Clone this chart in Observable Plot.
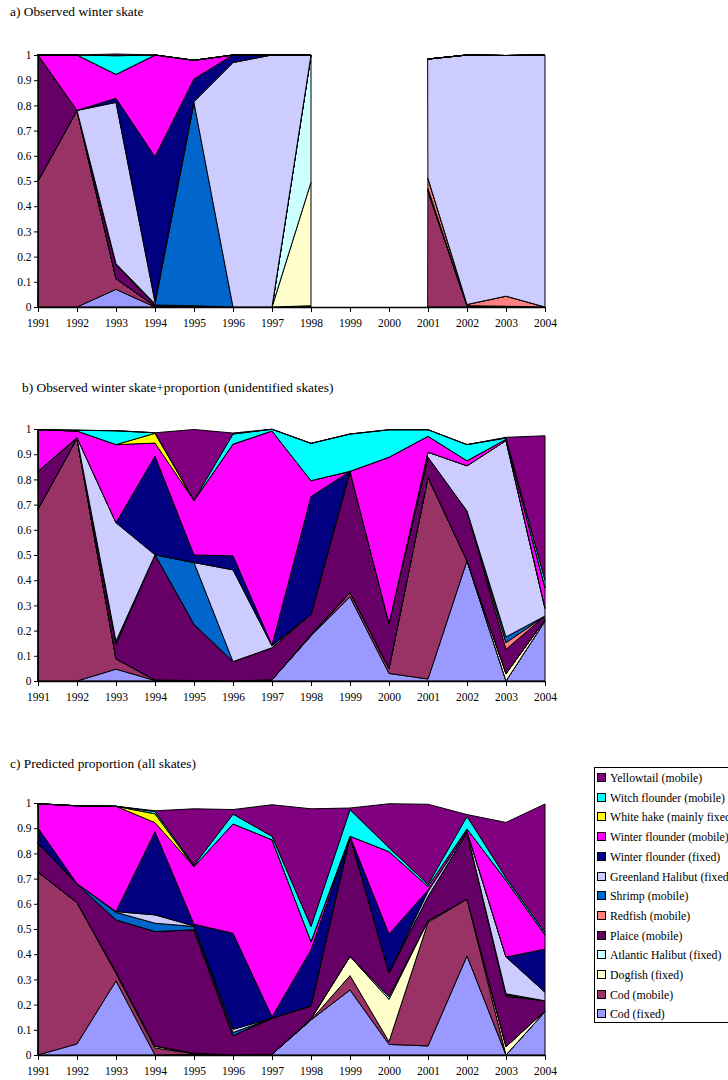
<!DOCTYPE html>
<html><head><meta charset="utf-8">
<script src="https://cdn.jsdelivr.net/npm/d3@7"></script>
<script src="https://cdn.jsdelivr.net/npm/@observablehq/plot@0.6"></script>
<style>
body{margin:0;background:#fff;font-family:"Liberation Serif","Times New Roman",serif;color:#000;}
#root{position:relative;width:728px;height:1080px;overflow:hidden;background:#fff;}
.title{position:absolute;font-size:13.4px;white-space:nowrap;line-height:15px;}
.panel{position:absolute;left:0;}
.legend{position:absolute;left:594px;top:767px;width:150px;height:256px;border:1px solid #000;box-sizing:border-box;background:#fff;}
.item{position:absolute;left:2px;font-size:11.8px;white-space:nowrap;line-height:13px;}
.sw{display:inline-block;width:7px;height:7px;border:1px solid #000;margin-right:4px;vertical-align:0px;}
</style></head>
<body><div id="root"></div>
<script>
const years = [1991,1992,1993,1994,1995,1996,1997,1998,1999,2000,2001,2002,2003,2004];
const series = ["Cod (fixed)","Cod (mobile)","Dogfish (fixed)","Atlantic Halibut (fixed)","Plaice (mobile)","Redfish (mobile)","Shrimp (mobile)","Greenland Halibut (fixed)","Winter flounder (fixed)","Winter flounder (mobile)","White hake (mainly fixed)","Witch flounder (mobile)","Yellowtail (mobile)"];
const colors = ["#9999FF","#993366","#FFFFCC","#CCFFFF","#660066","#FF8080","#0066CC","#CCCCFF","#000080","#FF00FF","#FFFF00","#00FFFF","#800080"];
const yTicks = [0,0.1,0.2,0.3,0.4,0.5,0.6,0.7,0.8,0.9,1];
const yTickLabels = ["0","0.1","0.2","0.3","0.4","0.5","0.6","0.7","0.8","0.9","1"];
const titles = ["a) Observed winter skate","b) Observed winter skate+proportion (unidentified skates)","c) Predicted proportion (all skates)"];

// a) Observed winter skate (1999, 2000 missing)
const panelA = [
 [0,0,0.07,0,0.005,0,0,0.005,null,null,0,0,0,0],
 [0.5,0.78,0.043,0.003,0,0,0,0,null,null,0.46,0.005,0.003,0],
 [0,0,0,0,0,0,0,0.49,null,null,0,0,0,0],
 [0,0,0,0,0,0,0,0.505,null,null,0,0,0,0],
 [0.5,0,0.053,0.005,0,0,0,0,null,null,0.01,0,0,0],
 [0,0,0.003,0,0,0,0,0,null,null,0.04,0.005,0.04,0],
 [0,0,0.003,0.005,0.805,0,0,0,null,null,0,0,0,0],
 [0,0,0.64,0.007,0.005,0.97,1.0,0,null,null,0.474,0.99,0.955,1.0],
 [0,0,0.016,0.576,0.09,0.03,0,0,null,null,0,0,0,0],
 [0,0.22,0.095,0.404,0.074,0,0,0,null,null,0,0,0,0],
 [0,0,0,0,0,0,0,0,null,null,0,0,0,0],
 [0,0,0.074,0,0,0,0,0,null,null,0,0,0,0],
 [0,0,0.007,0,0,0,0,0,null,null,0,0,0,0]
];
// b) Observed winter skate + proportion (unidentified skates)
const panelB = [
 [0,0,0.047,0.002,0.002,0,0.005,0.179,0.334,0.03,0.008,0.477,0,0.238],
 [0.682,0.962,0.041,0.002,0,0,0,0,0.017,0.02,0.8,0,0,0],
 [0,0,0,0,0,0,0,0.003,0,0,0,0,0.029,0.005],
 [0,0,0,0,0,0,0,0.003,0,0,0,0,0,0],
 [0.15,0.002,0.057,0.497,0.223,0.077,0.127,0.08,0.481,0.178,0.08,0.198,0.097,0.015],
 [0,0,0.003,0,0,0,0,0,0,0,0,0,0.026,0],
 [0,0,0.01,0,0.245,0,0,0,0,0,0,0,0.023,0],
 [0,0.002,0.47,0,0,0.364,0.007,0,0,0,0.02,0.179,0.779,0.029],
 [0,0,0,0.391,0.03,0.056,0.003,0.467,0,0,0,0,0,0.003],
 [0.165,0.026,0.31,0.052,0.216,0.443,0.85,0.063,0,0.66,0.063,0.02,0.005,0.08],
 [0,0,0,0.039,0,0,0,0,0,0,0,0,0,0],
 [0,0.003,0.055,0.002,0.002,0.04,0.007,0.148,0.148,0.109,0.026,0.064,0.005,0.03],
 [0,0,0,0,0.28,0.004,0,0,0,0,0,0,0.003,0.573]
];
// c) Predicted proportion (all skates)
const panelC = [
 [0,0.044,0.294,0,0.002,0,0.003,0.139,0.258,0.042,0.036,0.393,0,0.172],
 [0.726,0.561,0.03,0.028,0.003,0,0,0,0.057,0.011,0.49,0.226,0,0],
 [0,0,0.005,0.007,0.002,0,0,0.003,0.076,0.168,0.006,0,0.033,0.003],
 [0,0,0,0,0,0,0,0.002,0,0.01,0,0,0,0],
 [0.115,0.073,0.207,0.455,0.49,0.077,0.143,0.051,0.477,0.095,0.097,0.264,0.2,0.04],
 [0,0,0,0,0,0,0,0,0,0,0,0,0.005,0],
 [0,0.002,0.03,0.033,0.013,0.012,0,0,0,0,0,0,0.005,0],
 [0,0,0.003,0.033,0.002,0.013,0,0,0,0,0.02,0.005,0.146,0.034],
 [0.06,0,0,0.33,0.007,0.381,0.005,0.222,0,0.154,0.005,0,0,0.171],
 [0.096,0.309,0.418,0.036,0.229,0.434,0.703,0.033,0,0.327,0.015,0.009,0.304,0.057],
 [0,0,0,0.035,0,0,0,0,0,0,0,0,0,0],
 [0,0,0,0.009,0.005,0.039,0.014,0.06,0.106,0.015,0.008,0.05,0.01,0.009],
 [0,0,0,0.003,0.224,0.018,0.125,0.467,0.006,0.175,0.318,0.007,0.22,0.51]
];

// rows; a gap (separate area segment) only where a panel has missing years
function toRows(values) {
  const out = [];
  const hasGap = values.some(r => r.some(v => v == null));
  years.forEach((yr, j) => {
    series.forEach((s, i) => {
      const v = values[i][j];
      if (v == null) return;
      const seg = hasGap && yr > 2000 ? 1 : 0;
      out.push({year: yr, series: s, value: v, key: s + "|" + seg});
    });
  });
  return out;
}

const root = document.getElementById("root");
const panels = [panelA, panelB, panelC];
const svgTops = [40, 414, 788];
const titlePos = [[10,4],[22,380],[10,756]];

panels.forEach((vals, p) => {
  const t = document.createElement("div");
  t.className = "title";
  t.style.left = titlePos[p][0] + "px";
  t.style.top = titlePos[p][1] + "px";
  t.textContent = titles[p];
  root.appendChild(t);

  const data = toRows(vals);
  const chart = Plot.plot({
    width: 560, height: 297,
    marginLeft: 38, marginRight: 15, marginTop: 15, marginBottom: 30,
    style: {fontFamily: "'Liberation Serif','Times New Roman',serif", fontSize: "11.5px", color: "#000", background: "transparent", overflow: "visible"},
    x: {domain: [1991, 2004], ticks: years, tickFormat: d => String(d), tickSize: 5, tickPadding: 6, label: null},
    y: {domain: [0, 1], ticks: yTicks, tickFormat: (d, i) => yTickLabels[i], tickSize: 4, tickPadding: 3, label: null},
    color: {domain: series, range: colors},
    marks: [
      Plot.areaY(data, {x: "year", y: "value", z: "key", fill: "series", stroke: "#000", strokeWidth: 1, strokeLinejoin: "round"}),
      Plot.ruleY([0], {stroke: "#000", strokeWidth: 1.5}),
      Plot.ruleX([1991], {stroke: "#000", strokeWidth: 1})
    ]
  });
  chart.classList.add("panel");
  chart.style.top = svgTops[p] + "px";
  root.appendChild(chart);
});

// legend (top series first); the box runs past the right edge as in the original
const lg = document.createElement("div");
lg.className = "legend";
const order = series.map((s, i) => i).reverse();
order.forEach((i, k) => {
  const it = document.createElement("div");
  it.className = "item";
  it.style.top = (4 + k * 19.7) + "px";
  const sw = document.createElement("span");
  sw.className = "sw";
  sw.style.background = colors[i];
  it.appendChild(sw);
  it.appendChild(document.createTextNode(series[i]));
  lg.appendChild(it);
});
root.appendChild(lg);
</script></body></html>
